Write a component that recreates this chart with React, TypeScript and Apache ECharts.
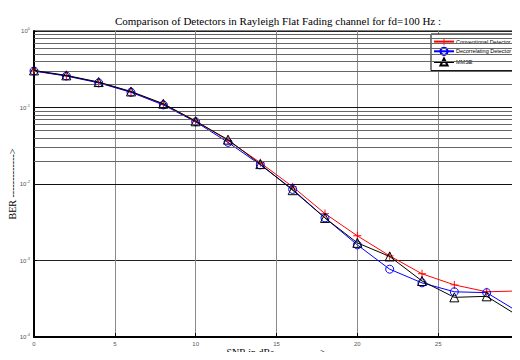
import React, { useEffect, useRef } from "react";
import * as echarts from "echarts";

const snr = [0, 2, 4, 6, 8, 10, 12, 14, 16, 18, 20, 22, 24, 26, 28, 30];
const conventional = [0.3, 0.26, 0.213, 0.16, 0.111, 0.067, 0.037, 0.019, 0.0092, 0.0041, 0.0021, 0.00115, 0.00067, 0.00048, 0.00039, 0.0004];
const decorrelating = [0.3, 0.258, 0.21, 0.158, 0.108, 0.065, 0.035, 0.0178, 0.0085, 0.0036, 0.0016, 0.00077, 0.00051, 0.00039, 0.00038, 0.00021];
const mmse = [0.305, 0.263, 0.215, 0.162, 0.112, 0.066, 0.038, 0.0182, 0.0083, 0.0036, 0.0017, 0.00113, 0.00054, 0.00033, 0.00034, 0.000186];
const decades = [1e-4, 1e-3, 1e-2, 1e-1];
const minorMultipliers = [2, 3, 4, 5, 6, 7, 8, 9];

const titleText = "Comparison of Detectors in Rayleigh Flat Fading channel for fd=100 Hz :";
const xName = "SNR in dBs ------------->";
const yName = "BER ------------->";

export default function App() {
  const ref = useRef<HTMLDivElement>(null);
  useEffect(() => {
    if (!ref.current) return;
    const chart = echarts.init(ref.current, null, { renderer: "svg" });
    const minorLines: any[] = [];
    decades.forEach((d) => minorMultipliers.forEach((m) => minorLines.push({ yAxis: d * m })));
    const majorLines = [1e-3, 1e-2, 1e-1].map((v) => ({ yAxis: v }));
    const plus = "path://M4.4,0H5.6V4.4H10V5.6H5.6V10H4.4V5.6H0V4.4H4.4Z";
    const mk = (arr: number[]) => arr.map((v, i) => [snr[i], v]);
    chart.setOption({
      animation: false,
      backgroundColor: "#fff",
      title: {
        text: titleText,
        left: 273,
        textAlign: "center",
        top: 10,
        textStyle: { fontFamily: "Liberation Serif", fontSize: 11, fontWeight: "normal", color: "#000" },
      },
      graphic: [
        {
          type: "text",
          x: 276,
          y: 352,
          style: {
            text: xName,
            fontFamily: "Liberation Serif",
            fontSize: 10,
            fill: "#000",
            align: "center",
            verticalAlign: "middle",
          },
        },
        {
          type: "text",
          x: 12,
          y: 184,
          rotation: Math.PI / 2,
          style: {
            text: yName,
            fontFamily: "Liberation Serif",
            fontSize: 10,
            fill: "#000",
            align: "center",
            verticalAlign: "middle",
          },
        },
      ],
      legend: {
        orient: "vertical",
        left: 431,
        top: 34,
        padding: [4, 3, 4, 2],
        itemGap: 1.5,
        itemWidth: 20,
        itemHeight: 9,
        backgroundColor: "#fff",
        borderColor: "#000",
        borderWidth: 1,
        borderRadius: 0,
        textStyle: { fontFamily: "Liberation Sans", fontSize: 5.5, color: "#000", padding: [0, 0, 0, -3] },
        data: ["Conventional Detector", "Decorrelating Detector", "MMSE"],
      },
      grid: {
        left: 34,
        right: 1,
        top: 31,
        bottom: 23,
        show: true,
        borderColor: "#000",
        borderWidth: 1,
        backgroundColor: "#fff",
        containLabel: false,
        outerBoundsMode: "none",
      },
      xAxis: {
        type: "value",
        min: 0,
        max: 30,
        interval: 5,
        axisLine: { show: true, lineStyle: { color: "#000", width: 2 } },
        axisTick: { show: true, inside: true, length: 4, lineStyle: { color: "#000" } },
        axisLabel: { fontSize: 6, color: "#555", margin: 4, fontFamily: "Liberation Sans", hideOverlap: false },
        splitLine: { show: true, lineStyle: { color: "#8a8a8a", width: 1 } },
      },
      yAxis: {
        type: "log",
        min: 1e-4,
        max: 1,
        logBase: 10,
        axisLine: { show: true, lineStyle: { color: "#000", width: 2 } },
        axisTick: { show: true, inside: true, length: 3, lineStyle: { color: "#000" } },
        axisLabel: {
          margin: 4,
          color: "#555",
          formatter: (v: number) => `{b|10}{e|${Math.round(Math.log10(v))}}`,
          rich: {
            b: { fontSize: 6, fontFamily: "Liberation Sans", color: "#555", lineHeight: 9 },
            e: { fontSize: 4, fontFamily: "Liberation Sans", color: "#555", verticalAlign: "top", lineHeight: 9 },
          },
        },
        splitLine: { show: true, lineStyle: { color: "#222", width: 1 } },
      },
      series: [
        {
          name: "grid-minor",
          type: "line",
          data: [],
          silent: true,
          markLine: {
            silent: true,
            symbol: "none",
            label: { show: false },
            lineStyle: { color: "#666", width: 1, type: "solid" },
            data: minorLines,
          },
        },
        {
          name: "grid-major",
          type: "line",
          data: [],
          silent: true,
          markLine: {
            silent: true,
            symbol: "none",
            label: { show: false },
            lineStyle: { color: "#111", width: 1.2, type: "solid" },
            data: majorLines,
          },
        },
        {
          name: "Conventional Detector",
          type: "line",
          data: mk(conventional),
          symbol: plus,
          symbolSize: 8,
          color: "#ff0000",
          lineStyle: { color: "#ff0000", width: 1 },
          itemStyle: { color: "#ff0000", borderColor: "#ff0000", borderWidth: 0 },
          z: 3,
        },
        {
          name: "Decorrelating Detector",
          type: "line",
          data: mk(decorrelating),
          symbol: "circle",
          symbolSize: 8,
          color: "#0000ff",
          lineStyle: { color: "#0000ff", width: 1 },
          itemStyle: { color: "rgba(0,0,0,0)", borderColor: "#0000ff", borderWidth: 1 },
          z: 4,
        },
        {
          name: "MMSE",
          type: "line",
          data: mk(mmse),
          symbol: "triangle",
          symbolSize: 9,
          color: "#000",
          lineStyle: { color: "#000", width: 1 },
          itemStyle: { color: "rgba(0,0,0,0)", borderColor: "#000", borderWidth: 1 },
          z: 5,
        },
      ],
    });
    return () => chart.dispose();
  }, []);
  return <div ref={ref} style={{ width: 520, height: 360, margin: -8 }} />;
}
